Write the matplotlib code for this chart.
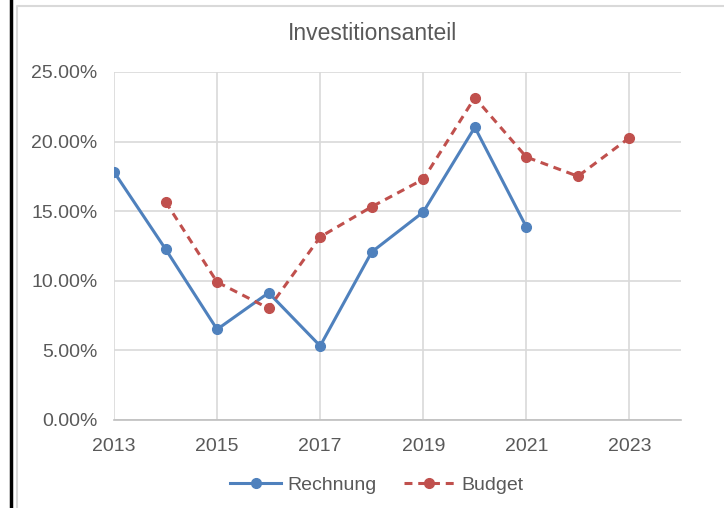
import matplotlib
matplotlib.use("Agg")
import matplotlib.pyplot as plt
from matplotlib.lines import Line2D
import numpy as np

plt.rcParams['font.family'] = ['Liberation Sans', 'DejaVu Sans']

title = "Investitionsanteil"
years_rechnung = [2013, 2014, 2015, 2016, 2017, 2018, 2019, 2020, 2021]
rechnung = [17.82, 12.28, 6.51, 9.14, 5.32, 12.07, 14.94, 21.03, 13.86]
years_budget = [2014, 2015, 2016, 2017, 2018, 2019, 2020, 2021, 2022, 2023]
budget = [15.68, 9.91, 8.02, 13.15, 15.32, 17.29, 23.16, 18.89, 17.51, 20.28]
xticks = [2013, 2015, 2017, 2019, 2021, 2023]
yticks = [0, 5, 10, 15, 20, 25]

blue = '#4F81BD'
red = '#C0504D'
txt = '#595959'
grid = '#D9D9D9'

W, H = 724, 508
fig = plt.figure(figsize=(W / 100, H / 100), dpi=100)
ax = fig.add_axes([114 / W, 1 - 420 / H, (681 - 114) / W, (420 - 72) / H])

# outer frame: black line on the left, grey chart border
fig.add_artist(Line2D([10.5 / W, 10.5 / W], [0, 1], color='black', lw=2.5))
fig.add_artist(Line2D([16.5 / W, 16.5 / W, 1], [0, 1 - 5.5 / H, 1 - 5.5 / H],
                      color=grid, lw=1.5))

ax.plot(years_rechnung, rechnung, color=blue, lw=2.2, marker='o', ms=7,
        label='Rechnung', zorder=3)
ax.plot(years_budget, budget, color=red, lw=2.2, ls=(0, (2.6, 1.9)), marker='o',
        ms=7, label='Budget', zorder=3)

ax.set_xlim(2013, 2024)
ax.set_ylim(0, 25)
ax.set_xticks(xticks)
ax.set_yticks(yticks)
ax.set_yticklabels([f"{v:.2f}%" for v in yticks])
ax.grid(True, color=grid, lw=1.2)
ax.set_axisbelow(True)
for s in ['top', 'right', 'left']:
    ax.spines[s].set_visible(False)
ax.spines['bottom'].set_color('#BFBFBF')
ax.spines['bottom'].set_linewidth(1.2)
ax.tick_params(length=0, colors=txt, labelsize=14)
ax.tick_params(axis='x', pad=13)
ax.tick_params(axis='y', pad=12)

fig.text(373 / W, 1 - 34 / H, title, ha='center', va='center', fontsize=16.5,
         color=txt)

leg = fig.legend(loc='center', bbox_to_anchor=(377 / W, 1 - 485 / H), ncol=2,
                 frameon=False, fontsize=14, handlelength=2.6,
                 columnspacing=1.4, handletextpad=0.35)
for t in leg.get_texts():
    t.set_color(txt)

fig.savefig('out.png', dpi=100, facecolor='white')
